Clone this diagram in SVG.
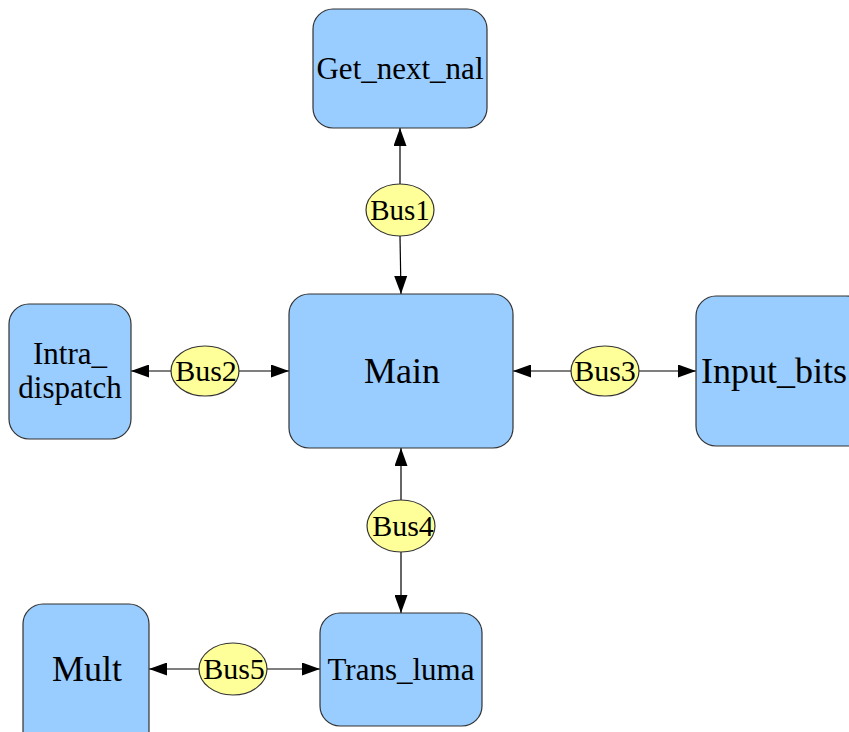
<svg xmlns="http://www.w3.org/2000/svg" width="849" height="732" viewBox="0 0 849 732">
  <defs>
    <style>
      .box { fill: #99ccff; stroke: #333333; stroke-width: 1.2; }
      .bus { fill: #ffff99; stroke: #333333; stroke-width: 1.2; }
      text { font-family: 'Liberation Serif', 'Times New Roman', Times, 'DejaVu Serif', serif; fill: #000000; }
      .lbl { text-anchor: middle; }
      .edge { stroke: #000000; stroke-width: 1.2; fill: none; marker-end: url(#arrow); }
    </style>
    <marker id="arrow" viewBox="0 0 18 13" refX="18" refY="6.5" markerWidth="18" markerHeight="13" markerUnits="userSpaceOnUse" orient="auto">
      <path d="M0,0 L18,6.5 L0,13 Z" fill="#000000"/>
    </marker>
  </defs>
  <rect width="849" height="732" fill="#ffffff"/>

  <g id="connectors">
    <line class="edge" x1="400" y1="184" x2="400" y2="128"/>
    <line class="edge" x1="400" y1="236" x2="401" y2="294"/>
    <line class="edge" x1="172" y1="371" x2="131" y2="371"/>
    <line class="edge" x1="239" y1="371" x2="289" y2="371"/>
    <line class="edge" x1="572" y1="371" x2="513" y2="371"/>
    <line class="edge" x1="639" y1="371" x2="696" y2="371"/>
    <line class="edge" x1="401" y1="500" x2="401" y2="448"/>
    <line class="edge" x1="401" y1="552" x2="401" y2="613"/>
    <line class="edge" x1="199" y1="669" x2="149" y2="669"/>
    <line class="edge" x1="267" y1="669" x2="320" y2="669"/>
  </g>

  <g id="get_next_nal">
    <rect class="box" x="313" y="9" width="174" height="119" rx="20" ry="20"/>
    <text class="lbl" x="400" y="79" font-size="31">Get_next_nal</text>
  </g>

  <g id="main">
    <rect class="box" x="289" y="294" width="224" height="154" rx="20" ry="20"/>
    <text class="lbl" x="402" y="383" font-size="36">Main</text>
  </g>

  <g id="intra_dispatch">
    <rect class="box" x="9" y="304" width="122" height="135" rx="20" ry="20"/>
    <text class="lbl" x="70" y="364" font-size="31">Intra_</text>
    <text class="lbl" x="70" y="398" font-size="31">dispatch</text>
  </g>

  <g id="input_bits">
    <rect class="box" x="696" y="296" width="170" height="150" rx="20" ry="20"/>
    <text x="701" y="383" font-size="36">Input_bits</text>
  </g>

  <g id="trans_luma">
    <rect class="box" x="320" y="613" width="162" height="113" rx="20" ry="20"/>
    <text class="lbl" x="401" y="680" font-size="31">Trans_luma</text>
  </g>

  <g id="mult">
    <rect class="box" x="23" y="604" width="126" height="150" rx="20" ry="20"/>
    <text class="lbl" x="87" y="681" font-size="36">Mult</text>
  </g>

  <g id="bus1">
    <ellipse class="bus" cx="400" cy="210" rx="34" ry="26"/>
    <text class="lbl" x="400" y="220" font-size="29">Bus1</text>
  </g>
  <g id="bus2">
    <ellipse class="bus" cx="205" cy="371" rx="34" ry="25"/>
    <text class="lbl" x="206" y="381" font-size="30">Bus2</text>
  </g>
  <g id="bus3">
    <ellipse class="bus" cx="605" cy="371" rx="34" ry="25"/>
    <text class="lbl" x="605" y="381" font-size="30">Bus3</text>
  </g>
  <g id="bus4">
    <ellipse class="bus" cx="401" cy="526" rx="34" ry="26"/>
    <text class="lbl" x="403" y="536" font-size="30">Bus4</text>
  </g>
  <g id="bus5">
    <ellipse class="bus" cx="233" cy="669" rx="34" ry="26"/>
    <text class="lbl" x="234" y="679" font-size="30">Bus5</text>
  </g>
</svg>
